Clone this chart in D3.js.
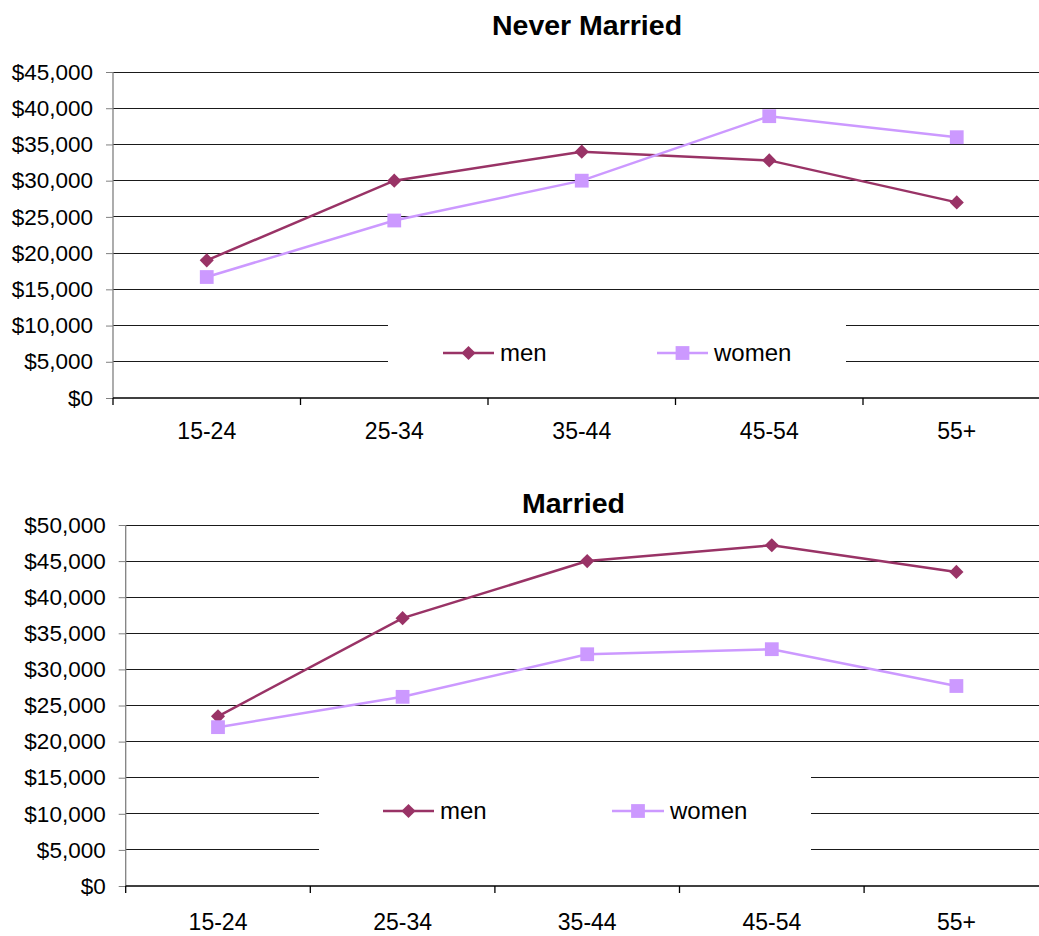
<!DOCTYPE html>
<html>
<head>
<meta charset="utf-8">
<script src="https://cdn.jsdelivr.net/npm/d3@7"></script>
<style>
  html, body { margin: 0; padding: 0; background: #fff; }
  svg { display: block; font-family: "Liberation Sans", Arial, sans-serif; }
</style>
</head>
<body>
<svg id="chart" width="1039" height="936"></svg>
<script>
// Median income by age group
const ageGroups = ["15-24", "25-34", "35-44", "45-54", "55+"];

const neverMarriedMen   = [19000, 30000, 34000, 32800, 27000];
const neverMarriedWomen = [16700, 24500, 30000, 38900, 36000];

const marriedMen   = [23500, 37100, 45000, 47200, 43500];
const marriedWomen = [22000, 26200, 32100, 32800, 27700];

const neverMarriedTicks = [0, 5000, 10000, 15000, 20000, 25000, 30000, 35000, 40000, 45000];
const marriedTicks      = [0, 5000, 10000, 15000, 20000, 25000, 30000, 35000, 40000, 45000, 50000];

const seriesNames = ["men", "women"];

const MEN_COLOR = "#993366";
const WOMEN_COLOR = "#CC99FF";

const svg = d3.select("#chart");
const fmt = v => "$" + d3.format(",")(v);

function drawPanel(cfg) {
  const g = svg.append("g");
  const x = d3.scaleBand().domain(ageGroups).range([cfg.left, cfg.right]);
  const y = d3.scaleLinear().domain([0, cfg.max]).range([cfg.bottom, cfg.top]);

  // Horizontal gridlines
  g.append("g").selectAll("line")
    .data(cfg.ticks.filter(t => t > 0))
    .join("line")
    .attr("x1", cfg.left).attr("x2", cfg.right)
    .attr("y1", d => y(d)).attr("y2", d => y(d))
    .attr("stroke", "#1a1a1a").attr("stroke-width", 1)
    .attr("shape-rendering", "crispEdges");

  // Legend background (white, covering gridlines behind it)
  g.append("rect")
    .attr("x", cfg.legend.x0).attr("y", cfg.legend.y0)
    .attr("width", cfg.legend.x1 - cfg.legend.x0)
    .attr("height", cfg.legend.y1 - cfg.legend.y0)
    .attr("fill", "#fff");

  // Y axis
  const yAxis = g.append("g")
    .attr("transform", `translate(${cfg.left},0)`)
    .call(d3.axisLeft(y).tickValues(cfg.ticks).tickFormat(fmt).tickSize(7).tickPadding(13));
  yAxis.select(".domain").attr("stroke", "#808080").attr("stroke-width", 1.3)
    .attr("d", `M0,${cfg.bottom}V${cfg.top}`);
  yAxis.selectAll(".tick line").attr("stroke", "#808080");
  yAxis.selectAll(".tick text")
    .attr("font-size", "22.5px").attr("fill", "#000")
    .attr("font-family", "Liberation Sans, Arial, sans-serif");

  // X axis
  const xAxis = g.append("g")
    .attr("transform", `translate(0,${cfg.bottom})`)
    .call(d3.axisBottom(x).tickSize(0).tickPadding(0));
  xAxis.select(".domain").attr("stroke", "#000").attr("stroke-width", 1.3)
    .attr("d", `M${cfg.left},0H${cfg.right}`);
  xAxis.selectAll(".tick text")
    .attr("y", cfg.labelOffset).attr("dy", 0)
    .attr("font-size", "23px").attr("fill", "#000")
    .attr("font-family", "Liberation Sans, Arial, sans-serif");
  // Tick marks between categories
  const step = x.step();
  g.append("g").selectAll("line")
    .data(d3.range(ageGroups.length + 1))
    .join("line")
    .attr("x1", i => cfg.left + i * step).attr("x2", i => cfg.left + i * step)
    .attr("y1", cfg.bottom).attr("y2", cfg.bottom + 7)
    .attr("stroke", "#000").attr("stroke-width", 1.3);

  // Title
  g.append("text")
    .attr("x", cfg.titleX).attr("y", cfg.titleY)
    .attr("text-anchor", "middle")
    .attr("font-size", "28.5px").attr("font-weight", "bold")
    .text(cfg.title);

  const cx = d => x(d) + x.bandwidth() / 2;
  const line = d3.line().x((d, i) => cx(ageGroups[i])).y(d => y(d));

  const series = [
    { name: seriesNames[0], values: cfg.men, color: MEN_COLOR, shape: "diamond" },
    { name: seriesNames[1], values: cfg.women, color: WOMEN_COLOR, shape: "square" }
  ];

  const diamond = d3.symbol().type(d3.symbolSquare).size(100);
  const square = d3.symbol().type(d3.symbolSquare).size(190);

  function marker(sel, shape, color) {
    if (shape === "diamond") {
      sel.append("path").attr("d", diamond()).attr("fill", color)
        .attr("transform", "rotate(45)");
    } else {
      sel.append("path").attr("d", square()).attr("fill", color);
    }
  }

  series.forEach(s => {
    g.append("path")
      .datum(s.values)
      .attr("d", line)
      .attr("fill", "none")
      .attr("stroke", s.color)
      .attr("stroke-width", 2.5);
    g.append("g").selectAll("g")
      .data(s.values)
      .join("g")
      .attr("transform", (d, i) => `translate(${cx(ageGroups[i])},${y(d)})`)
      .each(function () { marker(d3.select(this), s.shape, s.color); });
  });

  // Legend entries
  cfg.legendItems.forEach((it, k) => {
    const s = series[k];
    const lg = g.append("g");
    lg.append("line")
      .attr("x1", it.x0).attr("x2", it.x1)
      .attr("y1", cfg.legendY).attr("y2", cfg.legendY)
      .attr("stroke", s.color).attr("stroke-width", 2.5);
    const m = lg.append("g").attr("transform", `translate(${(it.x0 + it.x1) / 2},${cfg.legendY})`);
    marker(m, s.shape, s.color);
    lg.append("text")
      .attr("x", it.tx).attr("y", cfg.legendY).attr("dy", "0.35em")
      .attr("font-size", "24px").attr("fill", "#000")
      .text(s.name);
  });
}

drawPanel({
  title: "Never Married", titleX: 587, titleY: 35,
  left: 113, right: 1050.5, top: 72, bottom: 398, max: 45000,
  ticks: neverMarriedTicks,
  men: neverMarriedMen, women: neverMarriedWomen,
  labelOffset: 41,
  legend: { x0: 388, x1: 846, y0: 305, y1: 390 },
  legendY: 353,
  legendItems: [{ x0: 443, x1: 494, tx: 500 }, { x0: 657, x1: 708, tx: 714 }]
});

drawPanel({
  title: "Married", titleX: 573.5, titleY: 513,
  left: 125.7, right: 1048.7, top: 525, bottom: 886, max: 50000,
  ticks: marriedTicks,
  men: marriedMen, women: marriedWomen,
  labelOffset: 44,
  legend: { x0: 319, x1: 811, y0: 758, y1: 870 },
  legendY: 811,
  legendItems: [{ x0: 383, x1: 434, tx: 440 }, { x0: 612, x1: 664, tx: 670 }]
});
</script>
</body>
</html>
